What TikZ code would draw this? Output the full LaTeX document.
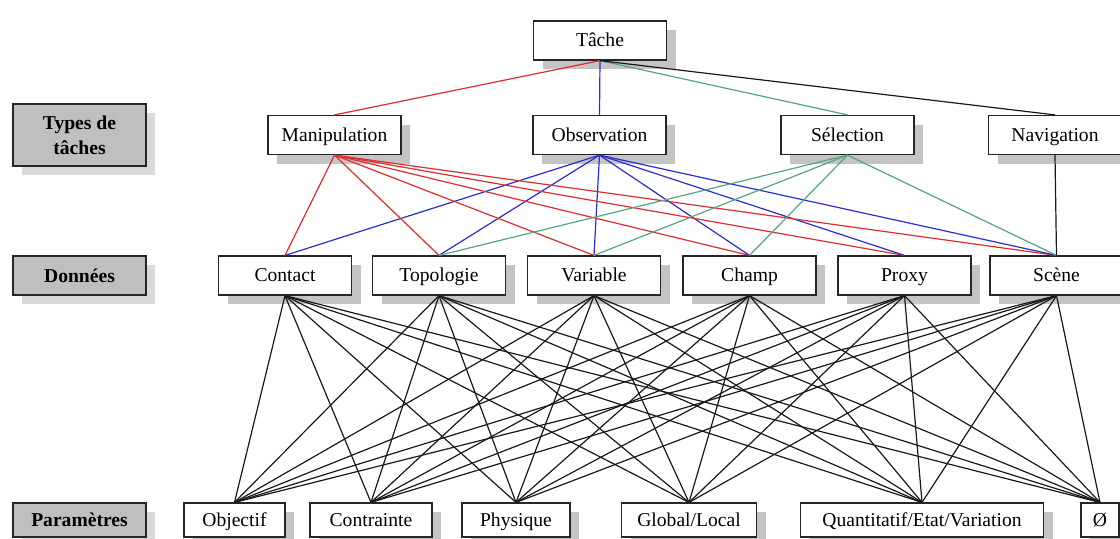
\documentclass[tikz,border=0pt]{standalone}
\usepackage{fontspec}
\setmainfont{Liberation Serif}
\usetikzlibrary{shadows}

\definecolor{manipred}{RGB}{222,45,45}
\definecolor{obsblue}{RGB}{45,45,205}
\definecolor{selgreen}{RGB}{85,165,125}

\begin{document}
\begin{tikzpicture}[x=0.5pt, y=-0.5pt,
    font=\fontsize{9.8}{12.5}\selectfont,
    boxshadow/.style={drop shadow={shadow xshift=4.5pt, shadow yshift=-4.5pt, fill=#1, opacity=1}},
    box/.style={draw=black!85, line width=0.6pt, fill=white, inner sep=0pt,
      text height=7.4pt, text depth=1.1pt,
      minimum width=66.5pt, minimum height=19.5pt, boxshadow=black!23},
    levelbox/.style={draw=black!85, line width=0.6pt, fill=black!25, inner sep=0pt, align=center,
      minimum width=66.5pt, minimum height=19.5pt, font=\fontsize{9.8}{12.5}\selectfont\bfseries,
      boxshadow=black!15},
    param/.style={box, minimum height=17pt},
    link/.style={line width=0.6pt, draw=black!90}]
  \useasboundingbox (0,0) rectangle (1120,538);
  \clip (0,0) rectangle (1120,538);

  % Niveaux
  \node[levelbox, minimum height=31pt] (types) at (79.5,135) {Types de\\tâches};
  \node[levelbox] (donnees) at (79.5,275.5) {Données};
  \node[levelbox, minimum height=17pt] (params) at (79.5,520) {Paramètres};

  % Tache et types de taches
  \node[box] (tache) at (600,40.5) {Tâche};
  \node[box] (manip) at (334.5,135) {Manipulation};
  \node[box] (obs) at (599.5,135) {Observation};
  \node[box] (sel) at (847.5,135) {Sélection};
  \node[box] (nav) at (1055,135) {Navigation};

  % Donnees
  \node[box] (contact) at (285,275.5) {Contact};
  \node[box] (topo) at (439,275.5) {Topologie};
  \node[box] (var) at (594,275.5) {Variable};
  \node[box] (champ) at (749.5,275.5) {Champ};
  \node[box] (proxy) at (904.5,275.5) {Proxy};
  \node[box] (scene) at (1056.5,275.5) {Scène};

  % Parametres
  \node[param, minimum width=50.5pt] (objectif) at (234.5,520) {Objectif};
  \node[param, minimum width=61pt] (contrainte) at (371,520) {Contrainte};
  \node[param, minimum width=54pt] (physique) at (516,520) {Physique};
  \node[param, minimum width=67.5pt] (global) at (689,520) {Global/Local};
  \node[param, minimum width=121.5pt] (quant) at (922,520) {Quantitatif/Etat/Variation};
  \node[param, minimum width=19pt] (vide) at (1100,520) {Ø};

  % Liens
  \draw[link, manipred] (tache.south) -- (manip.north);
  \draw[link, obsblue] (tache.south) -- (obs.north);
  \draw[link, selgreen] (tache.south) -- (sel.north);
  \draw[link] (tache.south) -- (nav.north);

  \foreach \d in {contact,topo,var,champ,proxy,scene} {
    \draw[link, manipred] (manip.south) -- (\d.north);
    \draw[link, obsblue] (obs.south) -- (\d.north);
  }
  \foreach \d in {topo,var,champ,scene}
    \draw[link, selgreen] (sel.south) -- (\d.north);
  \draw[link] (nav.south) -- (scene.north);

  \foreach \d in {contact,topo,var,champ,proxy,scene}
    \foreach \p in {objectif,contrainte,physique,global,quant,vide}
      \draw[link] (\d.south) -- (\p.north);
\end{tikzpicture}
\end{document}
